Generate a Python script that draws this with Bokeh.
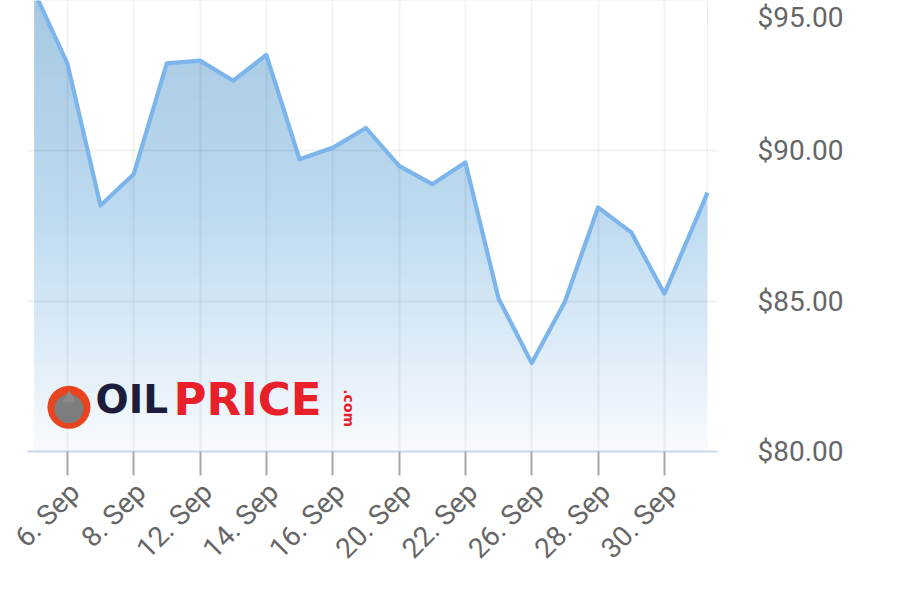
import numpy as np
from bokeh.plotting import figure
from bokeh.models import FixedTicker, NumeralTickFormatter, Range1d, Label
from bokeh.embed import file_html
from bokeh.resources import INLINE

# ---- data (trading-day position, price) ----
day_pos = [0, 1, 2, 3, 4, 5, 6, 7, 8, 9, 10, 11, 12, 13, 14, 15, 16, 17, 18, 19, 20.3]
prices = [95.30, 92.91, 88.18, 89.22, 92.91, 93.00, 92.33, 93.19, 89.72, 90.10,
          90.76, 89.50, 88.89, 89.61, 85.09, 82.94, 84.98, 88.12, 87.29, 85.25, 88.61]
tick_pos = [1, 3, 5, 7, 9, 11, 13, 15, 17, 19]
tick_labels = ["6. Sep", "8. Sep", "12. Sep", "14. Sep", "16. Sep", "20. Sep",
               "22. Sep", "26. Sep", "28. Sep", "30. Sep"]
y_ticks = [80, 85, 90, 95]

X_START, X_END = -0.2, 20.6
Y_START, Y_END = 80.0, 95.0
LABEL_SHIFT = 0.22  # rotated labels sit slightly right of their tick

p = figure(width=880, height=584, output_backend="svg", toolbar_location=None,
           x_range=Range1d(X_START, X_END), y_range=Range1d(Y_START, Y_END),
           y_axis_location="right", min_border_left=27, min_border_right=163,
           min_border_top=0, min_border_bottom=133)
p.outline_line_color = None
p.background_fill_color = "white"

# ---- gradient fill (vertical) ----
stops_v = [80.0, 88.0, 95.0]
stops_r = [248, 189, 166]
stops_g = [251, 218, 201]
stops_b = [254, 240, 226]
n_rows = 300
vals = np.linspace(Y_START, Y_END, n_rows)
img = np.zeros((n_rows, 1), dtype=np.uint32)
view = img.view(dtype=np.uint8).reshape((n_rows, 1, 4))
view[:, 0, 0] = np.interp(vals, stops_v, stops_r).astype(np.uint8)
view[:, 0, 1] = np.interp(vals, stops_v, stops_g).astype(np.uint8)
view[:, 0, 2] = np.interp(vals, stops_v, stops_b).astype(np.uint8)
view[:, 0, 3] = 255
p.image_rgba(image=[img], x=day_pos[0], y=Y_START, dw=day_pos[-1] - day_pos[0],
             dh=Y_END - Y_START, level="image")
# white mask above the price line
p.varea(x=day_pos, y1=prices, y2=[Y_END + 5] * len(prices), fill_color="white",
        level="image")

# ---- grid ----
p.xgrid.ticker = FixedTicker(ticks=tick_pos)
p.ygrid.ticker = FixedTicker(ticks=y_ticks)
for g in (p.xgrid, p.ygrid):
    g.grid_line_color = "black"
    g.grid_line_alpha = 0.05
    g.grid_line_width = 2

# ---- line ----
p.line(day_pos, prices, line_color="#7cb5ec", line_width=4.2, line_join="round")

# ---- x axis: visible tick marks = minor ticks at the dates, labels on shifted majors ----
label_pos = [t + LABEL_SHIFT for t in tick_pos]
xa = p.xaxis[0]
xa.ticker = FixedTicker(ticks=label_pos, minor_ticks=tick_pos)
xa.major_label_overrides = {lp: lab for lp, lab in zip(label_pos, tick_labels)}
xa.axis_line_color = "#ccd6eb"
xa.axis_line_width = 2
xa.major_tick_line_color = None
xa.major_tick_out = 24
xa.major_tick_in = 0
xa.minor_tick_line_color = "#a8a8a8"
xa.minor_tick_line_width = 2
xa.minor_tick_out = 24
xa.minor_tick_in = 0
xa.major_label_orientation = np.pi / 4
xa.major_label_standoff = 12
xa.major_label_text_font = "Roboto"
xa.major_label_text_font_size = "28px"
xa.major_label_text_color = "#666666"

# ---- y axis ----
ya = p.yaxis[0]
ya.ticker = FixedTicker(ticks=y_ticks)
ya.formatter = NumeralTickFormatter(format="$0.00")
ya.axis_line_color = None
ya.major_tick_line_color = None
ya.major_tick_out = 0
ya.major_tick_in = 0
ya.minor_tick_line_color = None
ya.major_label_standoff = 40
ya.major_label_text_font = "Roboto"
ya.major_label_text_font_size = "28px"
ya.major_label_text_color = "#666666"

# ---- logo ----
logo_x, logo_y = 1.05, 81.47
p.scatter([logo_x], [logo_y], size=43, marker="circle", fill_color="#e8441f", line_color=None)
p.scatter([logo_x], [logo_y - 0.05], size=29, marker="circle", fill_color="#7d7d7d", line_color=None)
p.scatter([logo_x], [logo_y + 0.3], size=14, marker="triangle", fill_color="#8a8a8a", line_color=None)
p.add_layout(Label(x=1.85, y=81.72, text="OIL", text_font="DejaVu Sans", text_font_style="bold",
                   text_font_size="39px", text_color="#1b1d3a", text_baseline="middle"))
p.add_layout(Label(x=4.2, y=81.72, text="PRICE", text_font="DejaVu Sans", text_font_style="bold",
                   text_font_size="45px", text_color="#e8202a", text_baseline="middle"))
p.add_layout(Label(x=9.5, y=82.07, text=".com", text_font="DejaVu Sans", text_font_style="bold",
                   text_font_size="14px", text_color="#e8202a", angle=-np.pi / 2,
                   text_baseline="middle"))

open("out.html", "w").write(file_html(p, INLINE))
